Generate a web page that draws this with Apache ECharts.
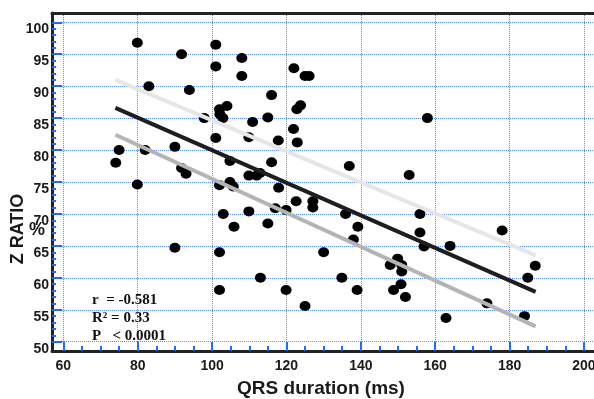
<!DOCTYPE html>
<html>
<head>
<meta charset="utf-8">
<script src="https://cdn.jsdelivr.net/npm/echarts@6/dist/echarts.min.js"></script>
<style>
html,body{margin:0;padding:0;background:#fff;}
#chart{width:594px;height:399px;}
</style>
</head>
<body>
<div id="chart"></div>
<script>
// ---- data ----
const qrsDuration = [
  74.1, 75.0, 79.9, 79.9, 82.0, 83.0, 90.0, 91.8, 91.8, 93.0,
  93.9, 97.9, 101.0, 101.0, 101.0, 102.0, 102.0, 104.0, 102.1, 102.9,
  116.0, 110.9, 115.0, 109.9, 117.8, 122.8, 123.8, 121.9, 122.9, 104.8,
  116.0, 109.9, 112.0, 112.9, 104.8, 105.7, 117.9, 122.6, 127.1, 127.1,
  103.0, 109.9, 117.0, 119.9, 105.9, 115.0, 102.0, 130.0, 113.0, 102.0,
  119.9, 125.0, 90.0, 136.9, 153.0, 135.9, 139.2, 138.0, 155.9, 155.9,
  157.0, 164.0, 149.9, 147.9, 151.0, 151.0, 134.9, 139.0, 148.8, 150.8,
  152.0, 162.9, 173.9, 178.0, 186.9, 184.9, 184.0, 122.0, 125.0, 126.1,
  157.9, 108.0, 108.0
];
const zRatio = [
  78.0, 80.0, 96.8, 74.6, 80.0, 90.0, 80.5, 95.0, 77.2, 76.3,
  89.4, 85.0, 96.5, 93.1, 81.9, 74.5, 86.4, 86.9, 85.6, 85.0,
  88.6, 84.4, 85.1, 82.0, 81.5, 86.4, 87.0, 83.3, 81.2, 78.3,
  78.1, 76.0, 76.0, 76.4, 75.0, 74.3, 74.1, 72.0, 72.0, 71.0,
  70.0, 70.4, 70.9, 70.6, 68.0, 68.5, 64.0, 64.0, 60.0, 58.1,
  58.1, 55.6, 64.7, 77.5, 76.1, 70.0, 68.0, 66.0, 70.0, 67.1,
  64.9, 65.0, 63.0, 62.0, 62.0, 61.0, 60.0, 58.1, 58.1, 59.0,
  57.0, 53.7, 56.0, 67.4, 61.9, 60.0, 54.0, 92.8, 91.6, 91.6,
  85.0, 94.4, 91.6
];
// regression line and its band (end points)
const fitX = [74, 187];
const fitY = [86.6, 57.8];
const upperY = [91.0, 63.5];
const lowerY = [82.4, 52.4];

// tick labels
const xLabels = [60, 80, 100, 120, 140, 160, 180, 200];
const xMinorTicks = [];
for (let v = 60; v <= 200; v += 5) xMinorTicks.push(v);
const yLabels = [50, 55, 60, 65, 70, 75, 80, 85, 90, 95, 100];
const yMinorTicks = [];
for (let v = 50; v <= 100; v += 1) yMinorTicks.push(v);

const statsText = 'r  = -0.581\nR\u00B2 = 0.33\nP   < 0.0001';

// ---- chart ----
const chart = echarts.init(document.getElementById('chart'), null, {renderer: 'canvas'});
const X_MIN = 56.96, X_MAX = 202.70, Y_MIN = 48.544, Y_MAX = 101.456;
const tickBlue = '#1f6bff';
const gridBlue = '#4d8dff';
const frameColor = '#222';
const labelFont = {fontFamily: '"Liberation Sans", Arial, sans-serif', fontWeight: 'bold', fontSize: 14, color: '#1a1a1a'};

function pairs(xs, ys) { return xs.map((x, i) => [x, ys[i]]); }

chart.setOption({
  animation: false,
  backgroundColor: '#fff',
  grid: [
    {left: 52, top: 13, right: 0, bottom: 48, show: false, outerBoundsMode: 'none', containLabel: false},
    {left: 42, width: 10, top: 13, bottom: 48, show: false, outerBoundsMode: 'none', containLabel: false},
    {left: 52, right: 0, top: 351, height: 10, show: false, outerBoundsMode: 'none', containLabel: false}
  ],
  xAxis: [
    { // 0: main bottom axis
      gridIndex: 0, type: 'value', min: X_MIN, max: X_MAX, position: 'bottom',
      axisLine: {show: true, onZero: false, lineStyle: {color: frameColor, width: 3}},
      axisTick: {show: true, inside: true, length: 5, customValues: xMinorTicks, lineStyle: {color: tickBlue, width: 2}},
      axisLabel: Object.assign({show: true, margin: 8, customValues: xLabels, hideOverlap: false}, labelFont),
      splitLine: {show: false},
      name: 'QRS duration (ms)', nameLocation: 'middle', nameGap: 28,
      nameTextStyle: {fontFamily: '"Liberation Sans", Arial, sans-serif', fontWeight: 'bold', fontSize: 19, color: '#1a1a1a', padding: [0, 4, 0, 0]}
    },
    { // 1: top frame + vertical grid lines
      gridIndex: 0, type: 'value', min: X_MIN, max: X_MAX, position: 'top',
      axisLine: {show: true, onZero: false, lineStyle: {color: frameColor, width: 3}},
      axisTick: {show: false, customValues: xLabels},
      axisLabel: {show: false},
      splitLine: {show: true, lineStyle: {color: gridBlue, type: [1, 1], width: 1}}
    },
    { // 2: long major ticks along the bottom frame
      gridIndex: 2, type: 'value', min: X_MIN, max: X_MAX, position: 'top',
      axisLine: {show: false, onZero: false},
      axisTick: {show: true, inside: false, length: 9, customValues: xLabels, lineStyle: {color: tickBlue, width: 2}},
      axisLabel: {show: false}, splitLine: {show: false}
    },
    { gridIndex: 1, type: 'value', show: false }
  ],
  yAxis: [
    { // 0: main left axis
      gridIndex: 0, type: 'value', min: Y_MIN, max: Y_MAX, position: 'left',
      axisLine: {show: true, onZero: false, lineStyle: {color: frameColor, width: 3}},
      axisTick: {show: true, inside: true, length: 4, customValues: yMinorTicks, lineStyle: {color: tickBlue, width: 2}},
      axisLabel: Object.assign({show: true, margin: 3, customValues: yLabels, verticalAlign: 'top', hideOverlap: false}, labelFont),
      splitLine: {show: false}
    },
    { // 1: horizontal grid lines
      gridIndex: 0, type: 'value', min: Y_MIN, max: Y_MAX, position: 'right',
      axisLine: {show: false, onZero: false},
      axisTick: {show: false, customValues: yLabels},
      axisLabel: {show: false},
      splitLine: {show: true, lineStyle: {color: gridBlue, type: [1, 1], width: 1}}
    },
    { // 2: long major ticks along the left frame
      gridIndex: 1, type: 'value', min: Y_MIN, max: Y_MAX, position: 'right',
      axisLine: {show: false, onZero: false},
      axisTick: {show: true, inside: false, length: 10, customValues: yLabels, lineStyle: {color: tickBlue, width: 2}},
      axisLabel: {show: false}, splitLine: {show: false}
    },
    { gridIndex: 2, type: 'value', show: false }
  ],
  graphic: [
    {
      type: 'text', x: 18, y: 229, rotation: Math.PI / 2, z: 10,
      style: {text: 'Z RATIO', font: 'bold 18px "Liberation Sans", Arial, sans-serif', fill: '#1a1a1a', align: 'center', verticalAlign: 'middle'}
    },
    {
      type: 'text', x: 37, y: 230, z: 10,
      style: {text: '%', font: 'bold 18px "Liberation Sans", Arial, sans-serif', fill: '#1a1a1a', align: 'center', verticalAlign: 'middle'}
    },
    {
      type: 'text', x: 92, y: 291, z: 10,
      style: {text: statsText, font: 'bold 15px "Liberation Serif", "Times New Roman", serif', fill: '#111', lineHeight: 18}
    }
  ],
  series: [
    {
      type: 'scatter', xAxisIndex: 0, yAxisIndex: 0,
      data: pairs(qrsDuration, zRatio),
      symbol: 'circle', symbolSize: [11, 10],
      itemStyle: {color: '#000', opacity: 1}, z: 2
    },
    {
      type: 'line', xAxisIndex: 0, yAxisIndex: 0, data: pairs(fitX, upperY),
      symbol: 'none', lineStyle: {color: '#e6e6e6', width: 4}, z: 3
    },
    {
      type: 'line', xAxisIndex: 0, yAxisIndex: 0, data: pairs(fitX, lowerY),
      symbol: 'none', lineStyle: {color: '#b4b4b4', width: 4}, z: 3
    },
    {
      type: 'line', xAxisIndex: 0, yAxisIndex: 0, data: pairs(fitX, fitY),
      symbol: 'none', lineStyle: {color: '#1e1e1e', width: 4}, z: 4
    }
  ]
});
</script>
</body>
</html>
